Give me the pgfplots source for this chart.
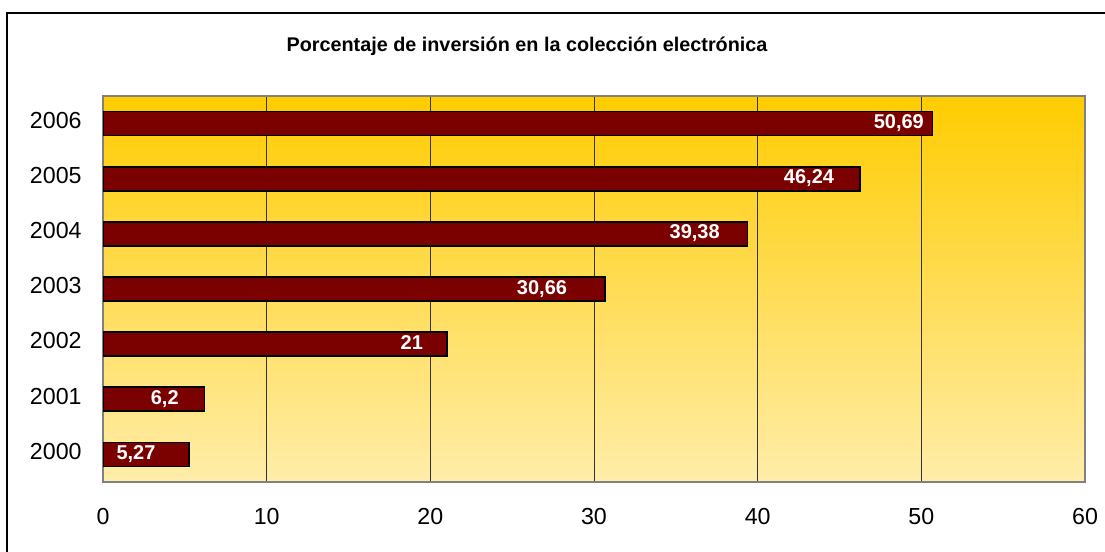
\documentclass[border=0pt]{standalone}
\usepackage{fontspec}
\setmainfont{Liberation Sans}
\usepackage{pgfplots}
\usepackage{pgfplotstable}
\pgfplotsset{compat=1.18}
\definecolor{barred}{HTML}{7B0000}
\definecolor{bgtop}{HTML}{FFCC00}
\definecolor{bgmid}{HTML}{FFD964}
\definecolor{bgbot}{HTML}{FFEDAA}
\definecolor{frame}{HTML}{808080}
\pgfplotstableread{
y x off
0 5.27 16.5
1 6.2 12.5
2 21 11.5
3 30.66 18.5
4 39.38 13.5
5 46.24 12.5
6 50.69 4
}\datatable
\begin{document}
\begin{tikzpicture}
\useasboundingbox (0,0) rectangle (552.5bp,276bp);
\fill[white] (0,0) rectangle (552.5bp,276bp);
\draw[line width=0.6bp] (3.5bp,0) -- (3.5bp,269.5bp) -- (552.5bp,269.5bp);
\node[anchor=base, font=\bfseries\fontsize{9.9bp}{12bp}\selectfont] at (263.5bp,250bp) {Porcentaje de inversión en la colección electrónica};
\begin{axis}[
  at={(51.5bp,35bp)}, anchor=south west,
  scale only axis, width=491bp, height=193bp,
  xmin=0, xmax=60, ymin=-0.5, ymax=6.5,
  xtick={0,10,...,60},
  ytick={0,1,2,3,4,5,6},
  yticklabels={2000,2001,2002,2003,2004,2005,2006},
  major tick length=0pt,
  xmajorgrids, ymajorgrids=false,
  grid style={draw=black!80, line width=0.5bp},
  axis line style={draw=frame, line width=0.8bp},
  axis background/.style={top color=bgtop, middle color=bgmid, bottom color=bgbot},
  /pgf/number format/assume math mode=true,
  /pgf/number format/use comma,
  /pgf/number format/fixed,
  /pgf/number format/precision=2,
  xticklabel style={anchor=base, yshift=-21bp, inner sep=0pt, font=\fontsize{11.6bp}{13bp}\selectfont},
  yticklabel style={anchor=base east, xshift=-10.5bp, yshift=-2.4bp, inner sep=0pt, font=\fontsize{11.6bp}{13bp}\selectfont},
  xbar, bar width=12bp,
  nodes near coords,
  point meta=x,
  visualization depends on={\thisrow{off} \as \myoff},
  every node near coord/.append style={anchor=base east, xshift={-1bp*\myoff}, yshift=-2.5bp, inner sep=0pt, text=white, font=\bfseries\fontsize{10bp}{12bp}\selectfont},
]
\addplot[fill=barred, draw=black, line width=0.8bp] table[x=x, y=y] {\datatable};
\end{axis}
\end{tikzpicture}
\end{document}
